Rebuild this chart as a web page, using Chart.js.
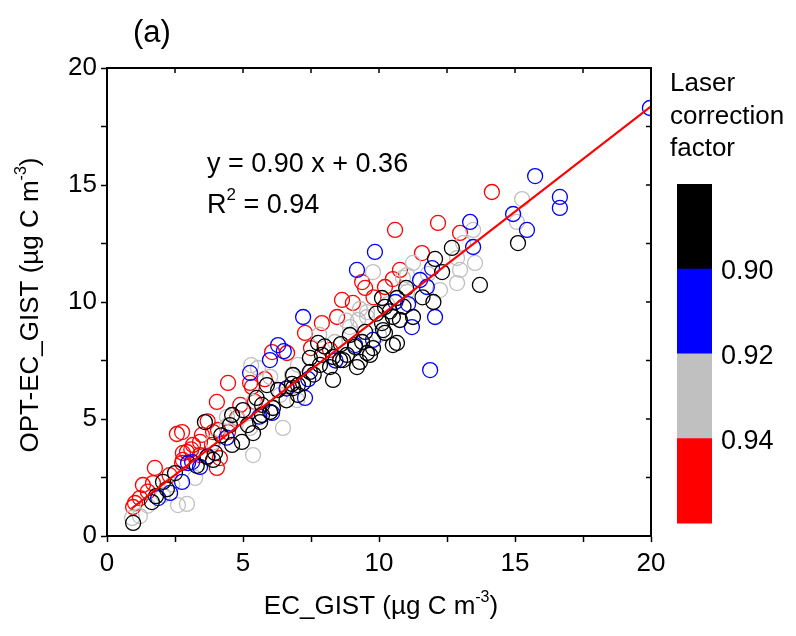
<!DOCTYPE html>
<html>
<head>
<meta charset="utf-8">
<script src="https://cdn.jsdelivr.net/npm/chart.js@4.4.0/dist/chart.umd.min.js"></script>
<style>
  html, body { margin: 0; background: #fff; }
  #wrap { width: 796px; height: 636px; }
</style>
</head>
<body>
<div id="wrap"><canvas id="chart"></canvas></div>
<script>
// data: [EC_GIST, OPT-EC_GIST] per laser correction factor class
const redPts = [
  [14.15,14.70],[12.17,13.38],[12.98,12.95],[10.59,13.08],[11.58,12.09],[10.77,11.37],[10.51,10.98],
  [10.22,10.64],[9.38,10.85],[9.49,10.60],[8.64,10.09],[9.04,9.96],[8.46,9.36],[7.28,8.68],[7.50,8.03],
  [8.20,7.95],[6.62,7.82],[6.07,7.86],[5.26,6.54],[5.44,5.73],[4.45,6.54],[5.33,6.37],[4.04,5.73],
  [4.78,5.04],[2.76,4.44],[3.49,4.32],[3.90,4.44],[4.08,4.53],[3.42,4.02],[3.86,3.89],[2.94,3.59],
  [2.79,3.25],[4.15,3.33],[2.57,4.36],[4.45,4.44],[3.16,3.89],[2.79,3.55],[2.76,3.12],[4.04,2.91],
  [1.76,2.91],[1.32,2.18],[1.69,2.26],[1.21,1.62],[0.96,1.24],[3.42,3.46],[6.62,6.32],[1.03,1.41],
  [3.10,3.70],[2.30,2.60],[1.50,1.90],[4.90,5.60],[5.80,6.70],[7.90,9.10],[9.80,10.20],[3.70,4.90]
];
const bluePts = [
  [19.96,18.29],[15.74,15.38],[16.65,14.49],[16.65,14.02],[14.93,13.76],[15.44,13.08],[13.35,13.42],
  [13.46,12.35],[11.51,10.94],[9.85,12.14],[11.95,11.45],[11.76,10.64],[11.07,9.91],[11.21,8.93],
  [12.06,9.36],[11.88,7.09],[9.19,11.37],[9.12,8.16],[9.78,8.38],[7.21,9.36],[7.28,5.90],[5.99,7.52],
  [6.29,8.16],[5.26,6.97],[2.98,3.12],[3.42,2.95],[3.13,3.16],[2.76,2.31],[2.32,1.84],[1.88,1.62],
  [6.07,5.26],[7.40,6.70],[6.50,7.90],[5.60,5.10],[4.40,4.20],[3.70,3.40],[8.40,7.50],[10.60,10.00],
  [6.60,6.30]
];
const grayPts = [
  [15.26,14.40],[15.07,13.42],[13.46,13.08],[13.09,12.52],[12.87,11.88],[12.98,11.37],[13.53,11.67],
  [12.87,10.81],[12.24,10.51],[11.25,11.67],[11.03,11.15],[11.03,10.43],[9.78,11.28],[9.56,9.36],
  [10.88,11.03],[9.56,9.57],[9.23,9.23],[8.38,8.29],[8.93,8.93],[5.55,7.18],[7.02,7.31],[6.80,6.88],
  [6.36,6.03],[5.37,5.73],[4.41,5.09],[6.47,4.62],[5.37,3.46],[5.26,4.62],[6.99,5.81],[2.06,1.75],
  [2.61,1.32],[2.94,1.37],[0.92,0.77],[1.21,0.85],[3.24,2.48],[5.30,7.30],[9.30,9.70],[10.00,8.60],
  [6.00,6.80],[7.80,8.60],[8.80,9.20],[4.80,5.00],[3.90,4.00],[4.40,4.70],[10.30,9.90],[11.80,11.20],
  [2.40,2.20],[1.50,1.30]
];
const blackPts = [
  [15.11,12.52],[13.71,10.73],[12.68,12.31],[12.06,11.84],[12.32,11.28],[10.66,10.17],[10.11,10.17],
  [10.22,9.79],[10.51,9.36],[10.11,9.10],[10.77,9.23],[10.22,8.68],[9.49,8.72],[8.93,8.59],[9.38,8.29],
  [9.78,8.03],[10.66,8.25],[8.82,7.74],[7.76,8.25],[7.90,7.74],[7.46,7.61],[9.30,7.44],[8.31,7.65],
  [8.20,7.22],[8.31,6.67],[6.84,6.88],[7.46,7.01],[5.88,6.45],[6.29,6.24],[7.02,6.03],[9.12,8.08],
  [9.56,7.82],[8.68,7.52],[9.19,7.22],[6.10,5.47],[5.70,5.60],[5.00,5.38],[3.60,4.87],[5.63,4.87],
  [4.52,4.74],[5.18,4.74],[4.60,3.89],[4.96,4.02],[3.68,3.38],[3.90,3.25],[3.97,3.55],[2.50,2.69],
  [2.06,2.31],[1.65,1.45],[0.96,0.56],[7.02,6.45],[4.60,5.17],[10.51,8.16],[9.67,7.74],[10.15,8.80],
  [7.21,6.54],[7.83,7.31],[8.57,7.52],[11.25,9.36],[5.37,4.40],[5.70,5.17],[6.84,6.32],
  [5.50,5.90],[6.00,5.30],[6.60,5.80],[6.80,6.50],[7.60,6.90],[8.00,8.10],[8.60,8.20],[9.90,9.50],
  [10.40,9.60],[10.90,9.80],[11.60,10.20],[12.00,10.00],[3.30,3.00],[2.20,2.00],[1.80,1.70],[4.20,4.30],
  [11.00,10.60]
];
// linear fit y = 0.90 x + 0.36
const fitX = [0.9, 20];
const fitY = [1.17, 18.36];
const xTicks = [0, 5, 10, 15, 20];
const yTicks = [0, 5, 10, 15, 20];
const barLabels = ['0.90', '0.92', '0.94'];
const barColors = ['#000000', '#0000ff', '#c0c0c0', '#ff0000'];

const FONT = "'Liberation Sans', Arial, sans-serif";
const toXY = (arr) => arr.map(p => ({ x: p[0], y: p[1] }));

const ring = (data, color) => ({
  type: 'scatter',
  data: toXY(data),
  borderColor: color,
  backgroundColor: 'rgba(0,0,0,0)',
  pointRadius: 7.5,
  pointHoverRadius: 7.5,
  pointBorderWidth: 1.3,
  order: 2,
});

// text with a superscript tail, drawn left aligned from x
const drawSup = (ctx, x, y, base, sup, tail, size) => {
  ctx.font = size + 'px ' + FONT;
  ctx.fillText(base, x, y);
  let w = ctx.measureText(base).width;
  ctx.font = Math.round(size * 0.62) + 'px ' + FONT;
  ctx.fillText(sup, x + w, y - size * 0.38);
  w += ctx.measureText(sup).width;
  ctx.font = size + 'px ' + FONT;
  ctx.fillText(tail, x + w, y);
  return w + ctx.measureText(tail).width;
};
const supWidth = (ctx, base, sup, tail, size) => {
  ctx.font = size + 'px ' + FONT;
  let w = ctx.measureText(base).width + ctx.measureText(tail).width;
  ctx.font = Math.round(size * 0.62) + 'px ' + FONT;
  return w + ctx.measureText(sup).width;
};

const extras = {
  id: 'extras',
  afterDraw(chart) {
    const { ctx, chartArea: a, scales: { x, y } } = chart;
    ctx.save();
    ctx.strokeStyle = '#000';
    ctx.fillStyle = '#000';
    // frame top and right
    ctx.lineWidth = 2;
    ctx.beginPath();
    ctx.moveTo(a.left, a.top); ctx.lineTo(a.right, a.top); ctx.lineTo(a.right, a.bottom);
    ctx.stroke();
    // inward ticks on top and right
    ctx.lineWidth = 1.5;
    ctx.beginPath();
    for (let v = 2.5; v < 20; v += 2.5) {
      const px = x.getPixelForValue(v);
      ctx.moveTo(px, a.top); ctx.lineTo(px, a.top + 5);
      const py = y.getPixelForValue(v);
      ctx.moveTo(a.right, py); ctx.lineTo(a.right - 5, py);
    }
    ctx.stroke();

    ctx.textBaseline = 'middle';
    ctx.textAlign = 'left';
    // panel label
    ctx.font = '31px ' + FONT;
    ctx.fillText('(a)', 133, 33);
    // fit annotation
    ctx.font = '27px ' + FONT;
    ctx.fillText('y = 0.90 x + 0.36', 207, 165);
    drawSup(ctx, 207, 206, 'R', '2', ' = 0.94', 27);

    // x axis title
    const xt = ['EC_GIST (\u00b5g C m', '-3', ')'];
    const xw = supWidth(ctx, ...xt, 26);
    drawSup(ctx, 381 - xw / 2, 607, ...xt, 26);
    // y axis title
    ctx.save();
    ctx.translate(31, 305);
    ctx.rotate(-Math.PI / 2);
    const yt = ['OPT-EC_GIST (\u00b5g C m', '-3', ')'];
    const yw = supWidth(ctx, ...yt, 26);
    drawSup(ctx, -yw / 2, 0, ...yt, 26);
    ctx.restore();

    // colour bar
    ctx.font = '26px ' + FONT;
    ctx.fillText('Laser', 670, 84);
    ctx.fillText('correction', 670, 117);
    ctx.fillText('factor', 670, 149);
    const top = 184, seg = 84.75, bx = 677, bw = 35;
    barColors.forEach((c, i) => {
      ctx.fillStyle = c;
      ctx.fillRect(bx, top + i * seg, bw, seg + 0.5);
    });
    ctx.fillStyle = '#000';
    ctx.font = '27px ' + FONT;
    barLabels.forEach((t, i) => ctx.fillText(t, 721, top + (i + 1) * seg + 3));
    ctx.restore();
  }
};

const tickCb = (v) => (xTicks.includes(v) ? String(v) : '');

new Chart(document.getElementById('chart'), {
  type: 'scatter',
  data: {
    datasets: [
      {
        type: 'line',
        data: fitX.map((v, i) => ({ x: v, y: fitY[i] })),
        borderColor: '#ff0000',
        borderWidth: 2,
        pointRadius: 0,
        fill: false,
        order: 0,
      },
      ring(blackPts, '#000000'),
      ring(bluePts, '#0000ff'),
      ring(grayPts, '#c0c0c0'),
      ring(redPts, '#ff0000'),
    ],
  },
  options: {
    responsive: true,
    maintainAspectRatio: false,
    animation: false,
    events: [],
    layout: { padding: { left: 0, right: 145, top: 68, bottom: 0 } },
    plugins: { legend: { display: false }, tooltip: { enabled: false } },
    scales: {
      x: {
        type: 'linear', min: 0, max: 20,
        afterFit: (s) => { s.height = 100; },
        ticks: { stepSize: 2.5, autoSkip: false, maxRotation: 0, callback: tickCb,
                 color: '#000', padding: 6, font: { family: FONT, size: 26 } },
        grid: { drawOnChartArea: false, tickLength: 6, tickColor: '#000', tickWidth: 1.5 },
        border: { color: '#000', width: 2 },
      },
      y: {
        type: 'linear', min: 0, max: 20,
        afterFit: (s) => { s.width = 107; },
        ticks: { stepSize: 2.5, autoSkip: false, callback: (v) => (yTicks.includes(v) ? String(v) : ''),
                 color: '#000', padding: 4, font: { family: FONT, size: 26 } },
        grid: { drawOnChartArea: false, tickLength: 6, tickColor: '#000', tickWidth: 1.5 },
        border: { color: '#000', width: 2 },
      },
    },
  },
  plugins: [extras],
});
</script>
</body>
</html>
